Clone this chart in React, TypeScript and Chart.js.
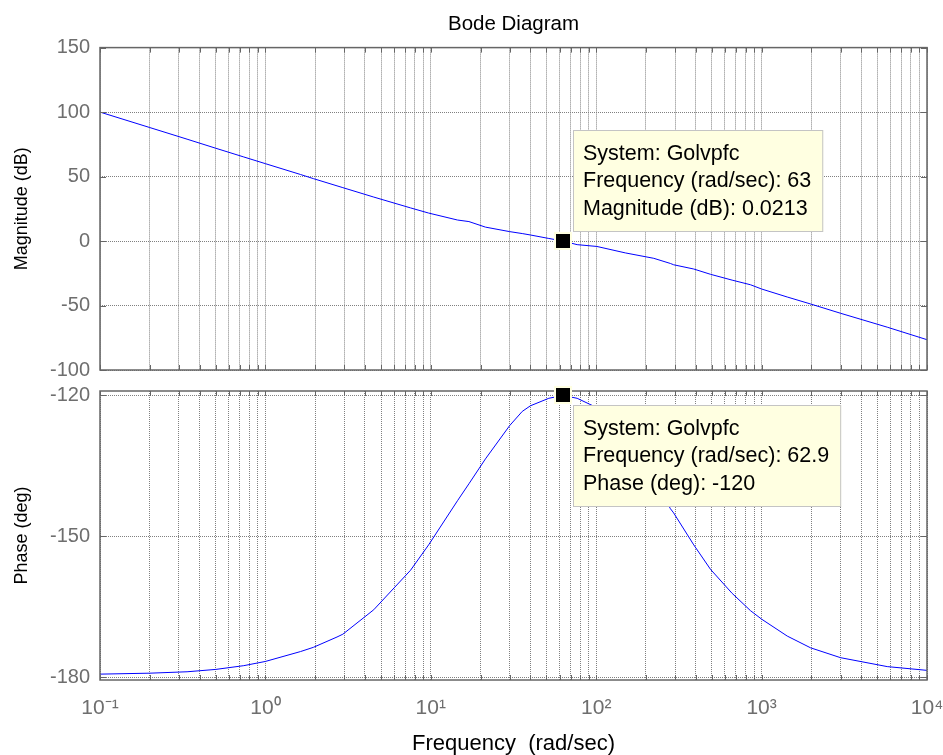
import React, { useEffect, useRef } from 'react';
import { Chart, registerables } from 'chart.js';

Chart.register(...registerables);

// ---------- data ----------
const FREQ = [0.1, 0.2, 0.336, 0.5, 0.74, 1, 1.63, 1.95, 2.71, 2.94, 4.52, 7.54, 9.7, 14.5, 17, 21.4, 30, 35.7, 40, 51.7, 62.9, 76.7, 101, 150, 223, 281, 294, 389, 491, 663, 857, 1000, 1429, 1977, 3000, 5750, 10000];
const MAG_DB = [100, 88, 79, 72, 65.2, 60, 51.6, 48.4, 42.8, 41.4, 34.1, 25.7, 21.7, 16.3, 15.1, 10.8, 7.3, 5.8, 4.7, 2.0, 0.02, -2.8, -4.2, -9.2, -13.4, -17.4, -18.4, -21.7, -25.8, -30.3, -33.9, -37.2, -43.4, -48.8, -56, -66.8, -76.5];
const PHASE_DEG = [-179.3, -179.1, -178.8, -178.3, -177.5, -176.6, -174.5, -173.6, -171.4, -170.8, -165.6, -157.2, -151.8, -142.4, -138.8, -133.5, -126.4, -123.4, -122.2, -120.6, -120, -120.6, -122.6, -128.8, -137.6, -144.1, -145.0, -151.8, -157, -162.1, -165.8, -167.6, -171.2, -173.7, -175.8, -177.7, -178.5];

const DECADES = [0.1, 1, 10, 100, 1000, 10000];
const DECADE_LABELS = ['10⁻¹', '10⁰', '10¹', '10²', '10³', '10⁴'];
const MINOR_MULTIPLIERS = [1, 2, 3, 4, 5, 6, 7, 8, 9];
const MAG_TICKS = [-100, -50, 0, 50, 100, 150];
const PHASE_TICKS = [-180, -150, -120];

const MAG_TIP_FREQ = 63;
const MAG_TIP_VALUE = 0.0213;
const MAG_TIP_LINES = ['System: Golvpfc', 'Frequency (rad/sec): 63', 'Magnitude (dB): 0.0213'];
const PHASE_TIP_FREQ = 62.9;
const PHASE_TIP_VALUE = -120;
const PHASE_TIP_LINES = ['System: Golvpfc', 'Frequency (rad/sec): 62.9', 'Phase (deg): -120'];

// ---------- styles ----------
const FONT = "'Liberation Sans', Arial, Helvetica, sans-serif";
const GRID_COLOR = '#808080';
const TICK_COLOR = '#6e6e6e';
const FRAME_COLOR = '#666666';
const W = 943;
const H = 755;

const X_GRID_VALUES: number[] = [];
for (let i = 0; i < DECADES.length - 1; i++) {
  for (const m of MINOR_MULTIPLIERS) X_GRID_VALUES.push(Number((m * DECADES[i]).toPrecision(6)));
}
X_GRID_VALUES.push(DECADES[DECADES.length - 1]);

function decadeLabel(v: number): string {
  for (let i = 0; i < DECADES.length; i++) {
    if (Math.abs(Math.log10(v) - Math.log10(DECADES[i])) < 1e-6) return DECADE_LABELS[i];
  }
  return '';
}

const bodePlugin = {
  id: 'bode',
  afterDraw(chart: any, _args: any, opts: any) {
    const { ctx } = chart;
    const { left, right, top, bottom } = chart.chartArea;
    ctx.save();
    // inside tick marks
    ctx.strokeStyle = FRAME_COLOR;
    ctx.lineWidth = 1;
    ctx.beginPath();
    for (const t of chart.scales.x.ticks) {
      const px = Math.round(chart.scales.x.getPixelForValue(t.value)) + 0.5;
      ctx.moveTo(px, top);
      ctx.lineTo(px, top + 5);
      ctx.moveTo(px, bottom);
      ctx.lineTo(px, bottom - 5);
    }
    for (const t of chart.scales.y.ticks) {
      const py = Math.round(chart.scales.y.getPixelForValue(t.value)) + 0.5;
      ctx.moveTo(left, py);
      ctx.lineTo(left + 6, py);
      ctx.moveTo(right, py);
      ctx.lineTo(right - 6, py);
    }
    ctx.stroke();
    // frame
    ctx.lineWidth = 1.5;
    ctx.strokeRect(left, top, right - left, bottom - top);

    // data tip
    if (opts && opts.lines) {
      const x = chart.scales.x.getPixelForValue(opts.freq);
      const y = chart.scales.y.getPixelForValue(opts.value);
      ctx.font = `21.5px ${FONT}`;
      const w = Math.max(...opts.lines.map((l: string) => ctx.measureText(l).width)) + 22;
      const h = 102;
      const bx = Math.round(x + 10);
      const by = Math.round(opts.above ? y - 9 - h : y + 10);
      ctx.fillStyle = '#ffffe1';
      ctx.fillRect(bx, by, w, h);
      ctx.strokeStyle = '#c4c4c4';
      ctx.lineWidth = 1;
      ctx.strokeRect(bx + 0.5, by + 0.5, w - 1, h - 1);
      ctx.fillStyle = '#000';
      ctx.textBaseline = 'middle';
      ctx.textAlign = 'left';
      opts.lines.forEach((l: string, i: number) => ctx.fillText(l, bx + 10, by + 24 + i * 27.5));
      ctx.fillStyle = '#ffffe1';
      ctx.fillRect(Math.round(x) - 9, Math.round(y) - 9, 18, 18);
      ctx.fillStyle = '#000';
      ctx.fillRect(Math.round(x) - 7, Math.round(y) - 7, 14, 14);
    }
    ctx.restore();
  },
};

function xScale(showLabels: boolean, axisHeight: number) {
  return {
    type: 'logarithmic',
    min: DECADES[0],
    max: DECADES[DECADES.length - 1],
    offset: false,
    afterBuildTicks: (s: any) => {
      s.ticks = X_GRID_VALUES.map((v) => ({ value: v }));
    },
    afterFit: (s: any) => {
      s.height = axisHeight;
      s.paddingLeft = 0;
      s.paddingRight = 0;
    },
    grid: { color: GRID_COLOR, lineWidth: 1, drawTicks: false },
    border: { display: false, dash: [1, 1] },
    ticks: {
      display: showLabels,
      autoSkip: false,
      maxRotation: 0,
      minRotation: 0,
      padding: 16,
      color: TICK_COLOR,
      font: { family: FONT, size: 21 },
      callback: (v: any) => decadeLabel(Number(v)),
    },
    title: {
      display: showLabels,
      text: 'Frequency  (rad/sec)',
      color: '#000',
      font: { family: FONT, size: 22, lineHeight: 1 },
      padding: { top: 0, bottom: 0 },
    },
  };
}

function yScale(min: number, max: number, ticks: number[], title: string) {
  return {
    type: 'linear',
    min,
    max,
    afterBuildTicks: (s: any) => {
      s.ticks = ticks.map((v) => ({ value: v }));
    },
    afterFit: (s: any) => {
      s.width = 100;
    },
    grid: { color: GRID_COLOR, lineWidth: 1, drawTicks: false },
    border: { display: false, dash: [1, 1] },
    ticks: {
      padding: 10,
      color: TICK_COLOR,
      font: { family: FONT, size: 20 },
      callback: (v: any) => String(v),
    },
    title: {
      display: true,
      text: title,
      color: '#000',
      font: { family: FONT, size: 18, lineHeight: 1.2 },
      padding: { top: 11, bottom: 0 },
    },
  };
}

export default function App() {
  const magRef = useRef<HTMLCanvasElement>(null);
  const phRef = useRef<HTMLCanvasElement>(null);

  useEffect(() => {
    const magData = FREQ.map((f, i) => ({ x: f, y: MAG_DB[i] }));
    const phData = FREQ.map((f, i) => ({ x: f, y: PHASE_DEG[i] }));

    const c1 = new Chart(magRef.current as HTMLCanvasElement, {
      type: 'line',
      data: {
        datasets: [
          { data: magData, borderColor: '#0000ff', borderWidth: 1, pointRadius: 0, tension: 0, fill: false },
        ],
      },
      options: {
        responsive: false,
        animation: false,
        devicePixelRatio: 1,
        events: [],
        layout: { padding: { left: 0, right: 16, top: 0, bottom: 0 } },
        scales: {
          x: xScale(false, H - 370) as any,
          y: yScale(-100, 150, MAG_TICKS, 'Magnitude (dB)') as any,
        },
        plugins: {
          legend: { display: false },
          tooltip: { enabled: false },
          title: {
            display: true,
            text: 'Bode Diagram',
            fullSize: false,
            color: '#000',
            font: { family: FONT, size: 20.5, lineHeight: 1.2, weight: 'normal' },
            padding: { top: 12, bottom: 11 },
          },
          bode: { freq: MAG_TIP_FREQ, value: MAG_TIP_VALUE, lines: MAG_TIP_LINES, above: true },
        } as any,
      },
      plugins: [bodePlugin],
    } as any);

    const c2 = new Chart(phRef.current as HTMLCanvasElement, {
      type: 'line',
      data: {
        datasets: [
          { data: phData, borderColor: '#0000ff', borderWidth: 1, pointRadius: 0, tension: 0, fill: false },
        ],
      },
      options: {
        responsive: false,
        animation: false,
        devicePixelRatio: 1,
        events: [],
        layout: { padding: { left: 0, right: 16, top: 391, bottom: 0 } },
        scales: {
          x: xScale(true, H - 680) as any,
          y: yScale(-180.55, -119.05, PHASE_TICKS, 'Phase (deg)') as any,
        },
        plugins: {
          legend: { display: false },
          tooltip: { enabled: false },
          bode: { freq: PHASE_TIP_FREQ, value: PHASE_TIP_VALUE, lines: PHASE_TIP_LINES, above: false },
        } as any,
      },
      plugins: [bodePlugin],
    } as any);

    return () => {
      c1.destroy();
      c2.destroy();
    };
  }, []);

  return (
    <div style={{ position: 'absolute', left: 0, top: 0, width: W, height: H, background: '#fff' }}>
      <canvas ref={magRef} width={W} height={H} style={{ position: 'absolute', left: 0, top: 0 }} />
      <canvas ref={phRef} width={W} height={H} style={{ position: 'absolute', left: 0, top: 0 }} />
    </div>
  );
}
